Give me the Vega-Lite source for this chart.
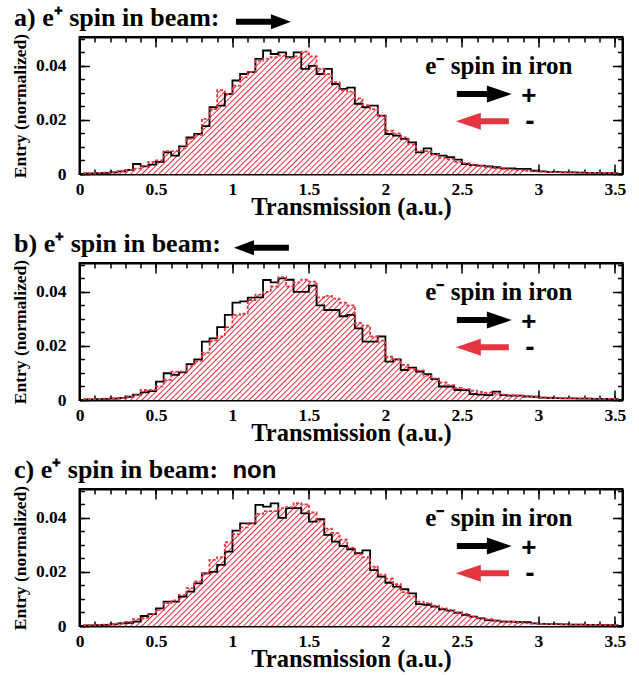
{
"$schema": "https://vega.github.io/schema/vega-lite/v6.json",
"background": "white",
"padding": {"left": 9.5, "top": 3, "right": 5, "bottom": 5},
"bounds": "flush",
"spacing": 89,
"config": {
 "view": {"stroke": "black", "strokeWidth": 2},
 "axis": {"labelFont": "Liberation Serif", "labelFontWeight": "bold", "labelFontSize": 17.5, "labelColor": "black", "titleFont": "Liberation Serif", "titleFontWeight": "bold", "titleColor": "black", "tickColor": "black", "tickWidth": 1.5, "domainColor": "black", "domainWidth": 2, "grid": false, "zindex": 1}
},
"datasets": {
 "note": [{"label": "e⁻ spin in iron"}],
 "a": [
  {"t":0.025,"pos":0.0002,"neg":0.0002},{"t":0.075,"pos":0.0002,"neg":0.0002},{"t":0.125,"pos":0.0003,"neg":0.0003},{"t":0.175,"pos":0.0004,"neg":0.0005},{"t":0.225,"pos":0.0006,"neg":0.0007},
  {"t":0.275,"pos":0.0010,"neg":0.0010},{"t":0.325,"pos":0.0015,"neg":0.0015},{"t":0.375,"pos":0.0037,"neg":0.0020},{"t":0.425,"pos":0.0028,"neg":0.0030},{"t":0.475,"pos":0.0035,"neg":0.0045},
  {"t":0.525,"pos":0.0045,"neg":0.0050},{"t":0.575,"pos":0.0080,"neg":0.0085},{"t":0.625,"pos":0.0068,"neg":0.0085},{"t":0.675,"pos":0.0102,"neg":0.0095},{"t":0.725,"pos":0.0135,"neg":0.0130},
  {"t":0.775,"pos":0.0148,"neg":0.0145},{"t":0.825,"pos":0.0177,"neg":0.0204},{"t":0.875,"pos":0.0247,"neg":0.0240},{"t":0.925,"pos":0.0253,"neg":0.0310},{"t":0.975,"pos":0.0296,"neg":0.0296},
  {"t":1.025,"pos":0.0346,"neg":0.0327},{"t":1.075,"pos":0.0370,"neg":0.0358},{"t":1.125,"pos":0.0377,"neg":0.0377},{"t":1.175,"pos":0.0426,"neg":0.0420},{"t":1.225,"pos":0.0457,"neg":0.0426},
  {"t":1.275,"pos":0.0444,"neg":0.0432},{"t":1.325,"pos":0.0450,"neg":0.0438},{"t":1.375,"pos":0.0432,"neg":0.0430},{"t":1.425,"pos":0.0450,"neg":0.0435},{"t":1.475,"pos":0.0389,"neg":0.0453},
  {"t":1.525,"pos":0.0400,"neg":0.0435},{"t":1.575,"pos":0.0370,"neg":0.0390},{"t":1.625,"pos":0.0389,"neg":0.0370},{"t":1.675,"pos":0.0333,"neg":0.0340},{"t":1.725,"pos":0.0315,"neg":0.0310},
  {"t":1.775,"pos":0.0320,"neg":0.0305},{"t":1.825,"pos":0.0260,"neg":0.0280},{"t":1.875,"pos":0.0247,"neg":0.0255},{"t":1.925,"pos":0.0253,"neg":0.0240},{"t":1.975,"pos":0.0216,"neg":0.0215},
  {"t":2.025,"pos":0.0148,"neg":0.0160},{"t":2.075,"pos":0.0142,"neg":0.0150},{"t":2.125,"pos":0.0130,"neg":0.0135},{"t":2.175,"pos":0.0117,"neg":0.0110},{"t":2.225,"pos":0.0080,"neg":0.0085},
  {"t":2.275,"pos":0.0095,"neg":0.0085},{"t":2.325,"pos":0.0074,"neg":0.0072},{"t":2.375,"pos":0.0068,"neg":0.0060},{"t":2.425,"pos":0.0062,"neg":0.0055},{"t":2.475,"pos":0.0053,"neg":0.0045},
  {"t":2.525,"pos":0.0037,"neg":0.0040},{"t":2.575,"pos":0.0033,"neg":0.0035},{"t":2.625,"pos":0.0031,"neg":0.0030},{"t":2.675,"pos":0.0028,"neg":0.0025},{"t":2.725,"pos":0.0025,"neg":0.0022},
  {"t":2.775,"pos":0.0021,"neg":0.0018},{"t":2.825,"pos":0.0021,"neg":0.0016},{"t":2.875,"pos":0.0019,"neg":0.0014},{"t":2.925,"pos":0.0019,"neg":0.0012},{"t":2.975,"pos":0.0012,"neg":0.0010},
  {"t":3.025,"pos":0.0010,"neg":0.0008},{"t":3.075,"pos":0.0008,"neg":0.0008},{"t":3.125,"pos":0.0008,"neg":0.0007},{"t":3.175,"pos":0.0006,"neg":0.0006},{"t":3.225,"pos":0.0006,"neg":0.0005},
  {"t":3.275,"pos":0.0005,"neg":0.0005},{"t":3.325,"pos":0.0004,"neg":0.0004},{"t":3.375,"pos":0.0004,"neg":0.0004},{"t":3.425,"pos":0.0003,"neg":0.0003},{"t":3.475,"pos":0.0003,"neg":0.0003},
  {"t":3.525,"pos":0.0002,"neg":0.0002}
 ],
 "b": [
  {"t":0.025,"pos":0.0002,"neg":0.0002},{"t":0.075,"pos":0.0002,"neg":0.0003},{"t":0.125,"pos":0.0003,"neg":0.0003},{"t":0.175,"pos":0.0004,"neg":0.0005},{"t":0.225,"pos":0.0005,"neg":0.0006},
  {"t":0.275,"pos":0.0008,"neg":0.0008},{"t":0.325,"pos":0.0012,"neg":0.0012},{"t":0.375,"pos":0.0020,"neg":0.0018},{"t":0.425,"pos":0.0028,"neg":0.0037},{"t":0.475,"pos":0.0033,"neg":0.0037},
  {"t":0.525,"pos":0.0068,"neg":0.0050},{"t":0.575,"pos":0.0099,"neg":0.0075},{"t":0.625,"pos":0.0093,"neg":0.0105},{"t":0.675,"pos":0.0102,"neg":0.0105},{"t":0.725,"pos":0.0133,"neg":0.0125},
  {"t":0.775,"pos":0.0150,"neg":0.0145},{"t":0.825,"pos":0.0216,"neg":0.0175},{"t":0.875,"pos":0.0228,"neg":0.0220},{"t":0.925,"pos":0.0270,"neg":0.0235},{"t":0.975,"pos":0.0315,"neg":0.0270},
  {"t":1.025,"pos":0.0360,"neg":0.0315},{"t":1.075,"pos":0.0365,"neg":0.0320},{"t":1.125,"pos":0.0379,"neg":0.0370},{"t":1.175,"pos":0.0380,"neg":0.0390},{"t":1.225,"pos":0.0444,"neg":0.0400},
  {"t":1.275,"pos":0.0435,"neg":0.0420},{"t":1.325,"pos":0.0450,"neg":0.0455},{"t":1.375,"pos":0.0445,"neg":0.0420},{"t":1.425,"pos":0.0400,"neg":0.0435},{"t":1.475,"pos":0.0400,"neg":0.0445},
  {"t":1.525,"pos":0.0423,"neg":0.0438},{"t":1.575,"pos":0.0350,"neg":0.0380},{"t":1.625,"pos":0.0333,"neg":0.0385},{"t":1.675,"pos":0.0333,"neg":0.0375},{"t":1.725,"pos":0.0310,"neg":0.0360},
  {"t":1.775,"pos":0.0315,"neg":0.0350},{"t":1.825,"pos":0.0265,"neg":0.0285},{"t":1.875,"pos":0.0216,"neg":0.0275},{"t":1.925,"pos":0.0216,"neg":0.0235},{"t":1.975,"pos":0.0235,"neg":0.0220},
  {"t":2.025,"pos":0.0142,"neg":0.0160},{"t":2.075,"pos":0.0150,"neg":0.0150},{"t":2.125,"pos":0.0111,"neg":0.0130},{"t":2.175,"pos":0.0120,"neg":0.0115},{"t":2.225,"pos":0.0105,"neg":0.0110},
  {"t":2.275,"pos":0.0096,"neg":0.0090},{"t":2.325,"pos":0.0077,"neg":0.0080},{"t":2.375,"pos":0.0050,"neg":0.0065},{"t":2.425,"pos":0.0050,"neg":0.0055},{"t":2.475,"pos":0.0037,"neg":0.0045},
  {"t":2.525,"pos":0.0037,"neg":0.0040},{"t":2.575,"pos":0.0022,"neg":0.0035},{"t":2.625,"pos":0.0020,"neg":0.0030},{"t":2.675,"pos":0.0018,"neg":0.0027},{"t":2.725,"pos":0.0031,"neg":0.0024},
  {"t":2.775,"pos":0.0018,"neg":0.0020},{"t":2.825,"pos":0.0016,"neg":0.0018},{"t":2.875,"pos":0.0016,"neg":0.0016},{"t":2.925,"pos":0.0013,"neg":0.0014},{"t":2.975,"pos":0.0012,"neg":0.0012},
  {"t":3.025,"pos":0.0009,"neg":0.0010},{"t":3.075,"pos":0.0008,"neg":0.0009},{"t":3.125,"pos":0.0007,"neg":0.0008},{"t":3.175,"pos":0.0006,"neg":0.0007},{"t":3.225,"pos":0.0006,"neg":0.0006},
  {"t":3.275,"pos":0.0005,"neg":0.0006},{"t":3.325,"pos":0.0005,"neg":0.0005},{"t":3.375,"pos":0.0004,"neg":0.0005},{"t":3.425,"pos":0.0004,"neg":0.0004},{"t":3.475,"pos":0.0003,"neg":0.0004},
  {"t":3.525,"pos":0.0003,"neg":0.0003}
 ],
 "c": [
  {"t":0.025,"pos":0.0002,"neg":0.0002},{"t":0.075,"pos":0.0002,"neg":0.0002},{"t":0.125,"pos":0.0003,"neg":0.0003},{"t":0.175,"pos":0.0004,"neg":0.0005},{"t":0.225,"pos":0.0006,"neg":0.0007},
  {"t":0.275,"pos":0.0010,"neg":0.0010},{"t":0.325,"pos":0.0012,"neg":0.0015},{"t":0.375,"pos":0.0016,"neg":0.0025},{"t":0.425,"pos":0.0037,"neg":0.0030},{"t":0.475,"pos":0.0044,"neg":0.0045},
  {"t":0.525,"pos":0.0065,"neg":0.0060},{"t":0.575,"pos":0.0090,"neg":0.0085},{"t":0.625,"pos":0.0090,"neg":0.0095},{"t":0.675,"pos":0.0109,"neg":0.0115},{"t":0.725,"pos":0.0127,"neg":0.0140},
  {"t":0.775,"pos":0.0158,"neg":0.0165},{"t":0.825,"pos":0.0195,"neg":0.0195},{"t":0.875,"pos":0.0200,"neg":0.0245},{"t":0.925,"pos":0.0226,"neg":0.0255},{"t":0.975,"pos":0.0275,"neg":0.0310},
  {"t":1.025,"pos":0.0353,"neg":0.0340},{"t":1.075,"pos":0.0380,"neg":0.0365},{"t":1.125,"pos":0.0380,"neg":0.0380},{"t":1.175,"pos":0.0448,"neg":0.0415},{"t":1.225,"pos":0.0442,"neg":0.0425},
  {"t":1.275,"pos":0.0454,"neg":0.0425},{"t":1.325,"pos":0.0400,"neg":0.0436},{"t":1.375,"pos":0.0436,"neg":0.0440},{"t":1.425,"pos":0.0436,"neg":0.0455},{"t":1.475,"pos":0.0417,"neg":0.0450},
  {"t":1.525,"pos":0.0386,"neg":0.0420},{"t":1.575,"pos":0.0395,"neg":0.0390},{"t":1.625,"pos":0.0337,"neg":0.0360},{"t":1.675,"pos":0.0312,"neg":0.0345},{"t":1.725,"pos":0.0296,"neg":0.0320},
  {"t":1.775,"pos":0.0284,"neg":0.0290},{"t":1.825,"pos":0.0270,"neg":0.0265},{"t":1.875,"pos":0.0280,"neg":0.0255},{"t":1.925,"pos":0.0207,"neg":0.0220},{"t":1.975,"pos":0.0183,"neg":0.0190},
  {"t":2.025,"pos":0.0160,"neg":0.0175},{"t":2.075,"pos":0.0146,"neg":0.0155},{"t":2.125,"pos":0.0136,"neg":0.0125},{"t":2.175,"pos":0.0121,"neg":0.0110},{"t":2.225,"pos":0.0081,"neg":0.0090},
  {"t":2.275,"pos":0.0078,"neg":0.0085},{"t":2.325,"pos":0.0072,"neg":0.0075},{"t":2.375,"pos":0.0062,"neg":0.0065},{"t":2.425,"pos":0.0057,"neg":0.0060},{"t":2.475,"pos":0.0049,"neg":0.0050},
  {"t":2.525,"pos":0.0041,"neg":0.0045},{"t":2.575,"pos":0.0035,"neg":0.0035},{"t":2.625,"pos":0.0028,"neg":0.0030},{"t":2.675,"pos":0.0022,"neg":0.0025},{"t":2.725,"pos":0.0020,"neg":0.0020},
  {"t":2.775,"pos":0.0016,"neg":0.0017},{"t":2.825,"pos":0.0016,"neg":0.0015},{"t":2.875,"pos":0.0014,"neg":0.0012},{"t":2.925,"pos":0.0014,"neg":0.0010},{"t":2.975,"pos":0.0010,"neg":0.0009},
  {"t":3.025,"pos":0.0008,"neg":0.0008},{"t":3.075,"pos":0.0007,"neg":0.0007},{"t":3.125,"pos":0.0007,"neg":0.0006},{"t":3.175,"pos":0.0006,"neg":0.0006},{"t":3.225,"pos":0.0005,"neg":0.0005},
  {"t":3.275,"pos":0.0005,"neg":0.0005},{"t":3.325,"pos":0.0004,"neg":0.0004},{"t":3.375,"pos":0.0004,"neg":0.0004},{"t":3.425,"pos":0.0003,"neg":0.0003},{"t":3.475,"pos":0.0003,"neg":0.0003},
  {"t":3.525,"pos":0.0002,"neg":0.0002}
 ]
},
"vconcat": [
 {
  "width": 543, "height": 137,
  "data": {"name": "a"},
  "resolve": {"axis": {"x": "independent", "y": "independent"}},
  "layer": [
   {"mark": {"type": "area", "interpolate": "step", "fill": {"gradient": "linear", "x1": 0, "y1": 0, "x2": 1, "y2": 0.23, "stops": [{"offset":0,"color":"#fff"},{"offset":0.0025,"color":"#e32c3a"},{"offset":0.005,"color":"#fff"},{"offset":0.01,"color":"#fff"},{"offset":0.0125,"color":"#e32c3a"},{"offset":0.015,"color":"#fff"},{"offset":0.02,"color":"#fff"},{"offset":0.0225,"color":"#e32c3a"},{"offset":0.025,"color":"#fff"},{"offset":0.03,"color":"#fff"},{"offset":0.0325,"color":"#e32c3a"},{"offset":0.035,"color":"#fff"},{"offset":0.04,"color":"#fff"},{"offset":0.0425,"color":"#e32c3a"},{"offset":0.045,"color":"#fff"},{"offset":0.05,"color":"#fff"},{"offset":0.0525,"color":"#e32c3a"},{"offset":0.055,"color":"#fff"},{"offset":0.06,"color":"#fff"},{"offset":0.0625,"color":"#e32c3a"},{"offset":0.065,"color":"#fff"},{"offset":0.07,"color":"#fff"},{"offset":0.0725,"color":"#e32c3a"},{"offset":0.075,"color":"#fff"},{"offset":0.08,"color":"#fff"},{"offset":0.0825,"color":"#e32c3a"},{"offset":0.085,"color":"#fff"},{"offset":0.09,"color":"#fff"},{"offset":0.0925,"color":"#e32c3a"},{"offset":0.095,"color":"#fff"},{"offset":0.1,"color":"#fff"},{"offset":0.1025,"color":"#e32c3a"},{"offset":0.105,"color":"#fff"},{"offset":0.11,"color":"#fff"},{"offset":0.1125,"color":"#e32c3a"},{"offset":0.115,"color":"#fff"},{"offset":0.12,"color":"#fff"},{"offset":0.1225,"color":"#e32c3a"},{"offset":0.125,"color":"#fff"},{"offset":0.13,"color":"#fff"},{"offset":0.1325,"color":"#e32c3a"},{"offset":0.135,"color":"#fff"},{"offset":0.14,"color":"#fff"},{"offset":0.1425,"color":"#e32c3a"},{"offset":0.145,"color":"#fff"},{"offset":0.15,"color":"#fff"},{"offset":0.1525,"color":"#e32c3a"},{"offset":0.155,"color":"#fff"},{"offset":0.16,"color":"#fff"},{"offset":0.1625,"color":"#e32c3a"},{"offset":0.165,"color":"#fff"},{"offset":0.17,"color":"#fff"},{"offset":0.1725,"color":"#e32c3a"},{"offset":0.175,"color":"#fff"},{"offset":0.18,"color":"#fff"},{"offset":0.1825,"color":"#e32c3a"},{"offset":0.185,"color":"#fff"},{"offset":0.19,"color":"#fff"},{"offset":0.1925,"color":"#e32c3a"},{"offset":0.195,"color":"#fff"},{"offset":0.2,"color":"#fff"},{"offset":0.2025,"color":"#e32c3a"},{"offset":0.205,"color":"#fff"},{"offset":0.21,"color":"#fff"},{"offset":0.2125,"color":"#e32c3a"},{"offset":0.215,"color":"#fff"},{"offset":0.22,"color":"#fff"},{"offset":0.2225,"color":"#e32c3a"},{"offset":0.225,"color":"#fff"},{"offset":0.23,"color":"#fff"},{"offset":0.2325,"color":"#e32c3a"},{"offset":0.235,"color":"#fff"},{"offset":0.24,"color":"#fff"},{"offset":0.2425,"color":"#e32c3a"},{"offset":0.245,"color":"#fff"},{"offset":0.25,"color":"#fff"},{"offset":0.2525,"color":"#e32c3a"},{"offset":0.255,"color":"#fff"},{"offset":0.26,"color":"#fff"},{"offset":0.2625,"color":"#e32c3a"},{"offset":0.265,"color":"#fff"},{"offset":0.27,"color":"#fff"},{"offset":0.2725,"color":"#e32c3a"},{"offset":0.275,"color":"#fff"},{"offset":0.28,"color":"#fff"},{"offset":0.2825,"color":"#e32c3a"},{"offset":0.285,"color":"#fff"},{"offset":0.29,"color":"#fff"},{"offset":0.2925,"color":"#e32c3a"},{"offset":0.295,"color":"#fff"},{"offset":0.3,"color":"#fff"},{"offset":0.3025,"color":"#e32c3a"},{"offset":0.305,"color":"#fff"},{"offset":0.31,"color":"#fff"},{"offset":0.3125,"color":"#e32c3a"},{"offset":0.315,"color":"#fff"},{"offset":0.32,"color":"#fff"},{"offset":0.3225,"color":"#e32c3a"},{"offset":0.325,"color":"#fff"},{"offset":0.33,"color":"#fff"},{"offset":0.3325,"color":"#e32c3a"},{"offset":0.335,"color":"#fff"},{"offset":0.34,"color":"#fff"},{"offset":0.3425,"color":"#e32c3a"},{"offset":0.345,"color":"#fff"},{"offset":0.35,"color":"#fff"},{"offset":0.3525,"color":"#e32c3a"},{"offset":0.355,"color":"#fff"},{"offset":0.36,"color":"#fff"},{"offset":0.3625,"color":"#e32c3a"},{"offset":0.365,"color":"#fff"},{"offset":0.37,"color":"#fff"},{"offset":0.3725,"color":"#e32c3a"},{"offset":0.375,"color":"#fff"},{"offset":0.38,"color":"#fff"},{"offset":0.3825,"color":"#e32c3a"},{"offset":0.385,"color":"#fff"},{"offset":0.39,"color":"#fff"},{"offset":0.3925,"color":"#e32c3a"},{"offset":0.395,"color":"#fff"},{"offset":0.4,"color":"#fff"},{"offset":0.4025,"color":"#e32c3a"},{"offset":0.405,"color":"#fff"},{"offset":0.41,"color":"#fff"},{"offset":0.4125,"color":"#e32c3a"},{"offset":0.415,"color":"#fff"},{"offset":0.42,"color":"#fff"},{"offset":0.4225,"color":"#e32c3a"},{"offset":0.425,"color":"#fff"},{"offset":0.43,"color":"#fff"},{"offset":0.4325,"color":"#e32c3a"},{"offset":0.435,"color":"#fff"},{"offset":0.44,"color":"#fff"},{"offset":0.4425,"color":"#e32c3a"},{"offset":0.445,"color":"#fff"},{"offset":0.45,"color":"#fff"},{"offset":0.4525,"color":"#e32c3a"},{"offset":0.455,"color":"#fff"},{"offset":0.46,"color":"#fff"},{"offset":0.4625,"color":"#e32c3a"},{"offset":0.465,"color":"#fff"},{"offset":0.47,"color":"#fff"},{"offset":0.4725,"color":"#e32c3a"},{"offset":0.475,"color":"#fff"},{"offset":0.48,"color":"#fff"},{"offset":0.4825,"color":"#e32c3a"},{"offset":0.485,"color":"#fff"},{"offset":0.49,"color":"#fff"},{"offset":0.4925,"color":"#e32c3a"},{"offset":0.495,"color":"#fff"},{"offset":0.5,"color":"#fff"},{"offset":0.5025,"color":"#e32c3a"},{"offset":0.505,"color":"#fff"},{"offset":0.51,"color":"#fff"},{"offset":0.5125,"color":"#e32c3a"},{"offset":0.515,"color":"#fff"},{"offset":0.52,"color":"#fff"},{"offset":0.5225,"color":"#e32c3a"},{"offset":0.525,"color":"#fff"},{"offset":0.53,"color":"#fff"},{"offset":0.5325,"color":"#e32c3a"},{"offset":0.535,"color":"#fff"},{"offset":0.54,"color":"#fff"},{"offset":0.5425,"color":"#e32c3a"},{"offset":0.545,"color":"#fff"},{"offset":0.55,"color":"#fff"},{"offset":0.5525,"color":"#e32c3a"},{"offset":0.555,"color":"#fff"},{"offset":0.56,"color":"#fff"},{"offset":0.5625,"color":"#e32c3a"},{"offset":0.565,"color":"#fff"},{"offset":0.57,"color":"#fff"},{"offset":0.5725,"color":"#e32c3a"},{"offset":0.575,"color":"#fff"},{"offset":0.58,"color":"#fff"},{"offset":0.5825,"color":"#e32c3a"},{"offset":0.585,"color":"#fff"},{"offset":0.59,"color":"#fff"},{"offset":0.5925,"color":"#e32c3a"},{"offset":0.595,"color":"#fff"},{"offset":0.6,"color":"#fff"},{"offset":0.6025,"color":"#e32c3a"},{"offset":0.605,"color":"#fff"},{"offset":0.61,"color":"#fff"},{"offset":0.6125,"color":"#e32c3a"},{"offset":0.615,"color":"#fff"},{"offset":0.62,"color":"#fff"},{"offset":0.6225,"color":"#e32c3a"},{"offset":0.625,"color":"#fff"},{"offset":0.63,"color":"#fff"},{"offset":0.6325,"color":"#e32c3a"},{"offset":0.635,"color":"#fff"},{"offset":0.64,"color":"#fff"},{"offset":0.6425,"color":"#e32c3a"},{"offset":0.645,"color":"#fff"},{"offset":0.65,"color":"#fff"},{"offset":0.6525,"color":"#e32c3a"},{"offset":0.655,"color":"#fff"},{"offset":0.66,"color":"#fff"},{"offset":0.6625,"color":"#e32c3a"},{"offset":0.665,"color":"#fff"},{"offset":0.67,"color":"#fff"},{"offset":0.6725,"color":"#e32c3a"},{"offset":0.675,"color":"#fff"},{"offset":0.68,"color":"#fff"},{"offset":0.6825,"color":"#e32c3a"},{"offset":0.685,"color":"#fff"},{"offset":0.69,"color":"#fff"},{"offset":0.6925,"color":"#e32c3a"},{"offset":0.695,"color":"#fff"},{"offset":0.7,"color":"#fff"},{"offset":0.7025,"color":"#e32c3a"},{"offset":0.705,"color":"#fff"},{"offset":0.71,"color":"#fff"},{"offset":0.7125,"color":"#e32c3a"},{"offset":0.715,"color":"#fff"},{"offset":0.72,"color":"#fff"},{"offset":0.7225,"color":"#e32c3a"},{"offset":0.725,"color":"#fff"},{"offset":0.73,"color":"#fff"},{"offset":0.7325,"color":"#e32c3a"},{"offset":0.735,"color":"#fff"},{"offset":0.74,"color":"#fff"},{"offset":0.7425,"color":"#e32c3a"},{"offset":0.745,"color":"#fff"},{"offset":0.75,"color":"#fff"},{"offset":0.7525,"color":"#e32c3a"},{"offset":0.755,"color":"#fff"},{"offset":0.76,"color":"#fff"},{"offset":0.7625,"color":"#e32c3a"},{"offset":0.765,"color":"#fff"},{"offset":0.77,"color":"#fff"},{"offset":0.7725,"color":"#e32c3a"},{"offset":0.775,"color":"#fff"},{"offset":0.78,"color":"#fff"},{"offset":0.7825,"color":"#e32c3a"},{"offset":0.785,"color":"#fff"},{"offset":0.79,"color":"#fff"},{"offset":0.7925,"color":"#e32c3a"},{"offset":0.795,"color":"#fff"},{"offset":0.8,"color":"#fff"},{"offset":0.8025,"color":"#e32c3a"},{"offset":0.805,"color":"#fff"},{"offset":0.81,"color":"#fff"},{"offset":0.8125,"color":"#e32c3a"},{"offset":0.815,"color":"#fff"},{"offset":0.82,"color":"#fff"},{"offset":0.8225,"color":"#e32c3a"},{"offset":0.825,"color":"#fff"},{"offset":0.83,"color":"#fff"},{"offset":0.8325,"color":"#e32c3a"},{"offset":0.835,"color":"#fff"},{"offset":0.84,"color":"#fff"},{"offset":0.8425,"color":"#e32c3a"},{"offset":0.845,"color":"#fff"},{"offset":0.85,"color":"#fff"},{"offset":0.8525,"color":"#e32c3a"},{"offset":0.855,"color":"#fff"},{"offset":0.86,"color":"#fff"},{"offset":0.8625,"color":"#e32c3a"},{"offset":0.865,"color":"#fff"},{"offset":0.87,"color":"#fff"},{"offset":0.8725,"color":"#e32c3a"},{"offset":0.875,"color":"#fff"},{"offset":0.88,"color":"#fff"},{"offset":0.8825,"color":"#e32c3a"},{"offset":0.885,"color":"#fff"},{"offset":0.89,"color":"#fff"},{"offset":0.8925,"color":"#e32c3a"},{"offset":0.895,"color":"#fff"},{"offset":0.9,"color":"#fff"},{"offset":0.9025,"color":"#e32c3a"},{"offset":0.905,"color":"#fff"},{"offset":0.91,"color":"#fff"},{"offset":0.9125,"color":"#e32c3a"},{"offset":0.915,"color":"#fff"},{"offset":0.92,"color":"#fff"},{"offset":0.9225,"color":"#e32c3a"},{"offset":0.925,"color":"#fff"},{"offset":0.93,"color":"#fff"},{"offset":0.9325,"color":"#e32c3a"},{"offset":0.935,"color":"#fff"},{"offset":0.94,"color":"#fff"},{"offset":0.9425,"color":"#e32c3a"},{"offset":0.945,"color":"#fff"},{"offset":0.95,"color":"#fff"},{"offset":0.9525,"color":"#e32c3a"},{"offset":0.955,"color":"#fff"},{"offset":0.96,"color":"#fff"},{"offset":0.9625,"color":"#e32c3a"},{"offset":0.965,"color":"#fff"},{"offset":0.97,"color":"#fff"},{"offset":0.9725,"color":"#e32c3a"},{"offset":0.975,"color":"#fff"},{"offset":0.98,"color":"#fff"},{"offset":0.9825,"color":"#e32c3a"},{"offset":0.985,"color":"#fff"},{"offset":0.99,"color":"#fff"},{"offset":0.9925,"color":"#e32c3a"},{"offset":0.995,"color":"#fff"},{"offset":1,"color":"#fff"}]}},
    "encoding": {
     "x": {"field": "t", "type": "quantitative", "scale": {"domain": [0, 3.55], "nice": false, "zero": false}, "axis": {"orient": "bottom", "values": [0,0.5,1,1.5,2,2.5,3,3.5], "format": "~g", "tickSize": -10, "labelPadding": 16, "labelFlush": false, "labelOverlap": false, "title": "Transmission (a.u.)", "titleFontSize": 24.5, "titlePadding": -2, "domain": true}},
     "y": {"field": "neg", "type": "quantitative", "scale": {"domain": [0, 0.0507], "nice": false}, "axis": {"orient": "left", "values": [0,0.02,0.04], "format": "~g", "tickSize": -10, "labelPadding": 23.5, "labelFlush": false, "labelOverlap": false, "title": "Entry (normalized)", "titleFontSize": 17.5, "titlePadding": 6, "domain": true}}
    }},
   {"mark": {"type": "line", "interpolate": "step", "color": "black", "strokeWidth": 1.8},
    "encoding": {
     "x": {"field": "t", "type": "quantitative", "axis": {"orient": "bottom", "values": [0,0.1,0.2,0.3,0.4,0.5,0.6,0.7,0.8,0.9,1,1.1,1.2,1.3,1.4,1.5,1.6,1.7,1.8,1.9,2,2.1,2.2,2.3,2.4,2.5,2.6,2.7,2.8,2.9,3,3.1,3.2,3.3,3.4,3.5], "tickSize": -5, "labels": false, "domain": false, "title": null}},
     "y": {"field": "pos", "type": "quantitative", "axis": {"orient": "left", "values": [0,0.005,0.01,0.015,0.02,0.025,0.03,0.035,0.04,0.045,0.05], "tickSize": -5, "labels": false, "domain": false, "title": null}}
    }},
   {"mark": {"type": "line", "interpolate": "step", "color": "#e53540", "strokeWidth": 1.8, "strokeDash": [3, 2]},
    "encoding": {
     "x": {"field": "t", "type": "quantitative", "axis": {"orient": "top", "values": [0,0.5,1,1.5,2,2.5,3,3.5], "tickSize": -10, "labels": false, "domain": true, "title": null}},
     "y": {"field": "neg", "type": "quantitative", "axis": {"orient": "right", "values": [0,0.02,0.04], "tickSize": -10, "labels": false, "domain": true, "title": null}}
    }},
   {"data": {"name": "note"},
    "mark": {"type": "text", "font": "Liberation Serif", "fontWeight": "bold", "fontSize": 25, "align": "center", "baseline": "alphabetic", "color": "black"},
    "encoding": {
     "x": {"datum": 2.742, "type": "quantitative", "axis": {"orient": "top", "values": [0,0.1,0.2,0.3,0.4,0.5,0.6,0.7,0.8,0.9,1,1.1,1.2,1.3,1.4,1.5,1.6,1.7,1.8,1.9,2,2.1,2.2,2.3,2.4,2.5,2.6,2.7,2.8,2.9,3,3.1,3.2,3.3,3.4,3.5], "tickSize": -5, "labels": false, "domain": false, "title": null}},
     "y": {"datum": 0.0369, "type": "quantitative", "axis": {"orient": "right", "values": [0,0.005,0.01,0.015,0.02,0.025,0.03,0.035,0.04,0.045,0.05], "tickSize": -5, "labels": false, "domain": false, "title": null}},
     "text": {"field": "label"}
    }},
   {"data": {"name": "note"}, "mark": {"type": "rule", "color": "black", "strokeWidth": 6},
    "encoding": {"x": {"datum": 2.467, "type": "quantitative", "axis": null}, "x2": {"datum": 2.7}, "y": {"datum": 0.0296, "type": "quantitative", "axis": null}}},
   {"data": {"name": "note"}, "mark": {"type": "point", "shape": "M-1,-0.68L1,0L-1,0.68Z", "size": 625, "filled": true, "opacity": 1, "strokeWidth": 0, "color": "black"},
    "encoding": {"x": {"datum": 2.745, "type": "quantitative", "axis": null}, "y": {"datum": 0.0296, "type": "quantitative", "axis": null}}},
   {"data": {"name": "note"}, "mark": {"type": "rule", "color": "#e53540", "strokeWidth": 6},
    "encoding": {"x": {"datum": 2.58, "type": "quantitative", "axis": null}, "x2": {"datum": 2.807}, "y": {"datum": 0.0195, "type": "quantitative", "axis": null}}},
   {"data": {"name": "note"}, "mark": {"type": "point", "shape": "M1,-0.68L-1,0L1,0.68Z", "size": 625, "filled": true, "opacity": 1, "strokeWidth": 0, "color": "#e53540"},
    "encoding": {"x": {"datum": 2.542, "type": "quantitative", "axis": null}, "y": {"datum": 0.0195, "type": "quantitative", "axis": null}}},
   {"data": {"name": "note"}, "mark": {"type": "text", "font": "Liberation Sans", "fontWeight": "bold", "fontSize": 26, "align": "center", "baseline": "middle", "color": "black"},
    "encoding": {"x": {"datum": 2.938, "type": "quantitative", "axis": null}, "y": {"datum": 0.0288, "type": "quantitative", "axis": null}, "text": {"value": "+"}}},
   {"data": {"name": "note"}, "mark": {"type": "text", "font": "Liberation Sans", "fontWeight": "bold", "fontSize": 28, "align": "center", "baseline": "middle", "color": "black"},
    "encoding": {"x": {"datum": 2.944, "type": "quantitative", "axis": null}, "y": {"datum": 0.0192, "type": "quantitative", "axis": null}, "text": {"value": "-"}}},
   {"data": {"name": "note"}, "mark": {"type": "text", "font": "Liberation Serif", "fontWeight": "bold", "fontSize": 26, "align": "left", "baseline": "alphabetic", "color": "black"},
    "encoding": {"x": {"datum": -0.428, "type": "quantitative", "axis": null}, "y": {"datum": 0.0548, "type": "quantitative", "axis": null}, "text": {"value": "a) e⁺ spin in beam:"}}},
   {"data": {"name": "note"}, "mark": {"type": "rule", "color": "black", "strokeWidth": 6},
    "encoding": {"x": {"datum": 1.023, "type": "quantitative", "axis": null}, "x2": {"datum": 1.29}, "y": {"datum": 0.0563, "type": "quantitative", "axis": null}}},
   {"data": {"name": "note"}, "mark": {"type": "point", "shape": "M-1,-0.75L1,0L-1,0.75Z", "size": 400, "filled": true, "opacity": 1, "strokeWidth": 0, "color": "black"},
    "encoding": {"x": {"datum": 1.317, "type": "quantitative", "axis": null}, "y": {"datum": 0.0563, "type": "quantitative", "axis": null}}}
  ]
 },
 {
  "width": 543, "height": 137,
  "data": {"name": "b"},
  "resolve": {"axis": {"x": "independent", "y": "independent"}},
  "layer": [
   {"mark": {"type": "area", "interpolate": "step", "fill": {"gradient": "linear", "x1": 0, "y1": 0, "x2": 1, "y2": 0.23, "stops": [{"offset":0,"color":"#fff"},{"offset":0.0025,"color":"#e32c3a"},{"offset":0.005,"color":"#fff"},{"offset":0.01,"color":"#fff"},{"offset":0.0125,"color":"#e32c3a"},{"offset":0.015,"color":"#fff"},{"offset":0.02,"color":"#fff"},{"offset":0.0225,"color":"#e32c3a"},{"offset":0.025,"color":"#fff"},{"offset":0.03,"color":"#fff"},{"offset":0.0325,"color":"#e32c3a"},{"offset":0.035,"color":"#fff"},{"offset":0.04,"color":"#fff"},{"offset":0.0425,"color":"#e32c3a"},{"offset":0.045,"color":"#fff"},{"offset":0.05,"color":"#fff"},{"offset":0.0525,"color":"#e32c3a"},{"offset":0.055,"color":"#fff"},{"offset":0.06,"color":"#fff"},{"offset":0.0625,"color":"#e32c3a"},{"offset":0.065,"color":"#fff"},{"offset":0.07,"color":"#fff"},{"offset":0.0725,"color":"#e32c3a"},{"offset":0.075,"color":"#fff"},{"offset":0.08,"color":"#fff"},{"offset":0.0825,"color":"#e32c3a"},{"offset":0.085,"color":"#fff"},{"offset":0.09,"color":"#fff"},{"offset":0.0925,"color":"#e32c3a"},{"offset":0.095,"color":"#fff"},{"offset":0.1,"color":"#fff"},{"offset":0.1025,"color":"#e32c3a"},{"offset":0.105,"color":"#fff"},{"offset":0.11,"color":"#fff"},{"offset":0.1125,"color":"#e32c3a"},{"offset":0.115,"color":"#fff"},{"offset":0.12,"color":"#fff"},{"offset":0.1225,"color":"#e32c3a"},{"offset":0.125,"color":"#fff"},{"offset":0.13,"color":"#fff"},{"offset":0.1325,"color":"#e32c3a"},{"offset":0.135,"color":"#fff"},{"offset":0.14,"color":"#fff"},{"offset":0.1425,"color":"#e32c3a"},{"offset":0.145,"color":"#fff"},{"offset":0.15,"color":"#fff"},{"offset":0.1525,"color":"#e32c3a"},{"offset":0.155,"color":"#fff"},{"offset":0.16,"color":"#fff"},{"offset":0.1625,"color":"#e32c3a"},{"offset":0.165,"color":"#fff"},{"offset":0.17,"color":"#fff"},{"offset":0.1725,"color":"#e32c3a"},{"offset":0.175,"color":"#fff"},{"offset":0.18,"color":"#fff"},{"offset":0.1825,"color":"#e32c3a"},{"offset":0.185,"color":"#fff"},{"offset":0.19,"color":"#fff"},{"offset":0.1925,"color":"#e32c3a"},{"offset":0.195,"color":"#fff"},{"offset":0.2,"color":"#fff"},{"offset":0.2025,"color":"#e32c3a"},{"offset":0.205,"color":"#fff"},{"offset":0.21,"color":"#fff"},{"offset":0.2125,"color":"#e32c3a"},{"offset":0.215,"color":"#fff"},{"offset":0.22,"color":"#fff"},{"offset":0.2225,"color":"#e32c3a"},{"offset":0.225,"color":"#fff"},{"offset":0.23,"color":"#fff"},{"offset":0.2325,"color":"#e32c3a"},{"offset":0.235,"color":"#fff"},{"offset":0.24,"color":"#fff"},{"offset":0.2425,"color":"#e32c3a"},{"offset":0.245,"color":"#fff"},{"offset":0.25,"color":"#fff"},{"offset":0.2525,"color":"#e32c3a"},{"offset":0.255,"color":"#fff"},{"offset":0.26,"color":"#fff"},{"offset":0.2625,"color":"#e32c3a"},{"offset":0.265,"color":"#fff"},{"offset":0.27,"color":"#fff"},{"offset":0.2725,"color":"#e32c3a"},{"offset":0.275,"color":"#fff"},{"offset":0.28,"color":"#fff"},{"offset":0.2825,"color":"#e32c3a"},{"offset":0.285,"color":"#fff"},{"offset":0.29,"color":"#fff"},{"offset":0.2925,"color":"#e32c3a"},{"offset":0.295,"color":"#fff"},{"offset":0.3,"color":"#fff"},{"offset":0.3025,"color":"#e32c3a"},{"offset":0.305,"color":"#fff"},{"offset":0.31,"color":"#fff"},{"offset":0.3125,"color":"#e32c3a"},{"offset":0.315,"color":"#fff"},{"offset":0.32,"color":"#fff"},{"offset":0.3225,"color":"#e32c3a"},{"offset":0.325,"color":"#fff"},{"offset":0.33,"color":"#fff"},{"offset":0.3325,"color":"#e32c3a"},{"offset":0.335,"color":"#fff"},{"offset":0.34,"color":"#fff"},{"offset":0.3425,"color":"#e32c3a"},{"offset":0.345,"color":"#fff"},{"offset":0.35,"color":"#fff"},{"offset":0.3525,"color":"#e32c3a"},{"offset":0.355,"color":"#fff"},{"offset":0.36,"color":"#fff"},{"offset":0.3625,"color":"#e32c3a"},{"offset":0.365,"color":"#fff"},{"offset":0.37,"color":"#fff"},{"offset":0.3725,"color":"#e32c3a"},{"offset":0.375,"color":"#fff"},{"offset":0.38,"color":"#fff"},{"offset":0.3825,"color":"#e32c3a"},{"offset":0.385,"color":"#fff"},{"offset":0.39,"color":"#fff"},{"offset":0.3925,"color":"#e32c3a"},{"offset":0.395,"color":"#fff"},{"offset":0.4,"color":"#fff"},{"offset":0.4025,"color":"#e32c3a"},{"offset":0.405,"color":"#fff"},{"offset":0.41,"color":"#fff"},{"offset":0.4125,"color":"#e32c3a"},{"offset":0.415,"color":"#fff"},{"offset":0.42,"color":"#fff"},{"offset":0.4225,"color":"#e32c3a"},{"offset":0.425,"color":"#fff"},{"offset":0.43,"color":"#fff"},{"offset":0.4325,"color":"#e32c3a"},{"offset":0.435,"color":"#fff"},{"offset":0.44,"color":"#fff"},{"offset":0.4425,"color":"#e32c3a"},{"offset":0.445,"color":"#fff"},{"offset":0.45,"color":"#fff"},{"offset":0.4525,"color":"#e32c3a"},{"offset":0.455,"color":"#fff"},{"offset":0.46,"color":"#fff"},{"offset":0.4625,"color":"#e32c3a"},{"offset":0.465,"color":"#fff"},{"offset":0.47,"color":"#fff"},{"offset":0.4725,"color":"#e32c3a"},{"offset":0.475,"color":"#fff"},{"offset":0.48,"color":"#fff"},{"offset":0.4825,"color":"#e32c3a"},{"offset":0.485,"color":"#fff"},{"offset":0.49,"color":"#fff"},{"offset":0.4925,"color":"#e32c3a"},{"offset":0.495,"color":"#fff"},{"offset":0.5,"color":"#fff"},{"offset":0.5025,"color":"#e32c3a"},{"offset":0.505,"color":"#fff"},{"offset":0.51,"color":"#fff"},{"offset":0.5125,"color":"#e32c3a"},{"offset":0.515,"color":"#fff"},{"offset":0.52,"color":"#fff"},{"offset":0.5225,"color":"#e32c3a"},{"offset":0.525,"color":"#fff"},{"offset":0.53,"color":"#fff"},{"offset":0.5325,"color":"#e32c3a"},{"offset":0.535,"color":"#fff"},{"offset":0.54,"color":"#fff"},{"offset":0.5425,"color":"#e32c3a"},{"offset":0.545,"color":"#fff"},{"offset":0.55,"color":"#fff"},{"offset":0.5525,"color":"#e32c3a"},{"offset":0.555,"color":"#fff"},{"offset":0.56,"color":"#fff"},{"offset":0.5625,"color":"#e32c3a"},{"offset":0.565,"color":"#fff"},{"offset":0.57,"color":"#fff"},{"offset":0.5725,"color":"#e32c3a"},{"offset":0.575,"color":"#fff"},{"offset":0.58,"color":"#fff"},{"offset":0.5825,"color":"#e32c3a"},{"offset":0.585,"color":"#fff"},{"offset":0.59,"color":"#fff"},{"offset":0.5925,"color":"#e32c3a"},{"offset":0.595,"color":"#fff"},{"offset":0.6,"color":"#fff"},{"offset":0.6025,"color":"#e32c3a"},{"offset":0.605,"color":"#fff"},{"offset":0.61,"color":"#fff"},{"offset":0.6125,"color":"#e32c3a"},{"offset":0.615,"color":"#fff"},{"offset":0.62,"color":"#fff"},{"offset":0.6225,"color":"#e32c3a"},{"offset":0.625,"color":"#fff"},{"offset":0.63,"color":"#fff"},{"offset":0.6325,"color":"#e32c3a"},{"offset":0.635,"color":"#fff"},{"offset":0.64,"color":"#fff"},{"offset":0.6425,"color":"#e32c3a"},{"offset":0.645,"color":"#fff"},{"offset":0.65,"color":"#fff"},{"offset":0.6525,"color":"#e32c3a"},{"offset":0.655,"color":"#fff"},{"offset":0.66,"color":"#fff"},{"offset":0.6625,"color":"#e32c3a"},{"offset":0.665,"color":"#fff"},{"offset":0.67,"color":"#fff"},{"offset":0.6725,"color":"#e32c3a"},{"offset":0.675,"color":"#fff"},{"offset":0.68,"color":"#fff"},{"offset":0.6825,"color":"#e32c3a"},{"offset":0.685,"color":"#fff"},{"offset":0.69,"color":"#fff"},{"offset":0.6925,"color":"#e32c3a"},{"offset":0.695,"color":"#fff"},{"offset":0.7,"color":"#fff"},{"offset":0.7025,"color":"#e32c3a"},{"offset":0.705,"color":"#fff"},{"offset":0.71,"color":"#fff"},{"offset":0.7125,"color":"#e32c3a"},{"offset":0.715,"color":"#fff"},{"offset":0.72,"color":"#fff"},{"offset":0.7225,"color":"#e32c3a"},{"offset":0.725,"color":"#fff"},{"offset":0.73,"color":"#fff"},{"offset":0.7325,"color":"#e32c3a"},{"offset":0.735,"color":"#fff"},{"offset":0.74,"color":"#fff"},{"offset":0.7425,"color":"#e32c3a"},{"offset":0.745,"color":"#fff"},{"offset":0.75,"color":"#fff"},{"offset":0.7525,"color":"#e32c3a"},{"offset":0.755,"color":"#fff"},{"offset":0.76,"color":"#fff"},{"offset":0.7625,"color":"#e32c3a"},{"offset":0.765,"color":"#fff"},{"offset":0.77,"color":"#fff"},{"offset":0.7725,"color":"#e32c3a"},{"offset":0.775,"color":"#fff"},{"offset":0.78,"color":"#fff"},{"offset":0.7825,"color":"#e32c3a"},{"offset":0.785,"color":"#fff"},{"offset":0.79,"color":"#fff"},{"offset":0.7925,"color":"#e32c3a"},{"offset":0.795,"color":"#fff"},{"offset":0.8,"color":"#fff"},{"offset":0.8025,"color":"#e32c3a"},{"offset":0.805,"color":"#fff"},{"offset":0.81,"color":"#fff"},{"offset":0.8125,"color":"#e32c3a"},{"offset":0.815,"color":"#fff"},{"offset":0.82,"color":"#fff"},{"offset":0.8225,"color":"#e32c3a"},{"offset":0.825,"color":"#fff"},{"offset":0.83,"color":"#fff"},{"offset":0.8325,"color":"#e32c3a"},{"offset":0.835,"color":"#fff"},{"offset":0.84,"color":"#fff"},{"offset":0.8425,"color":"#e32c3a"},{"offset":0.845,"color":"#fff"},{"offset":0.85,"color":"#fff"},{"offset":0.8525,"color":"#e32c3a"},{"offset":0.855,"color":"#fff"},{"offset":0.86,"color":"#fff"},{"offset":0.8625,"color":"#e32c3a"},{"offset":0.865,"color":"#fff"},{"offset":0.87,"color":"#fff"},{"offset":0.8725,"color":"#e32c3a"},{"offset":0.875,"color":"#fff"},{"offset":0.88,"color":"#fff"},{"offset":0.8825,"color":"#e32c3a"},{"offset":0.885,"color":"#fff"},{"offset":0.89,"color":"#fff"},{"offset":0.8925,"color":"#e32c3a"},{"offset":0.895,"color":"#fff"},{"offset":0.9,"color":"#fff"},{"offset":0.9025,"color":"#e32c3a"},{"offset":0.905,"color":"#fff"},{"offset":0.91,"color":"#fff"},{"offset":0.9125,"color":"#e32c3a"},{"offset":0.915,"color":"#fff"},{"offset":0.92,"color":"#fff"},{"offset":0.9225,"color":"#e32c3a"},{"offset":0.925,"color":"#fff"},{"offset":0.93,"color":"#fff"},{"offset":0.9325,"color":"#e32c3a"},{"offset":0.935,"color":"#fff"},{"offset":0.94,"color":"#fff"},{"offset":0.9425,"color":"#e32c3a"},{"offset":0.945,"color":"#fff"},{"offset":0.95,"color":"#fff"},{"offset":0.9525,"color":"#e32c3a"},{"offset":0.955,"color":"#fff"},{"offset":0.96,"color":"#fff"},{"offset":0.9625,"color":"#e32c3a"},{"offset":0.965,"color":"#fff"},{"offset":0.97,"color":"#fff"},{"offset":0.9725,"color":"#e32c3a"},{"offset":0.975,"color":"#fff"},{"offset":0.98,"color":"#fff"},{"offset":0.9825,"color":"#e32c3a"},{"offset":0.985,"color":"#fff"},{"offset":0.99,"color":"#fff"},{"offset":0.9925,"color":"#e32c3a"},{"offset":0.995,"color":"#fff"},{"offset":1,"color":"#fff"}]}},
    "encoding": {
     "x": {"field": "t", "type": "quantitative", "scale": {"domain": [0, 3.55], "nice": false, "zero": false}, "axis": {"orient": "bottom", "values": [0,0.5,1,1.5,2,2.5,3,3.5], "format": "~g", "tickSize": -10, "labelPadding": 16, "labelFlush": false, "labelOverlap": false, "title": "Transmission (a.u.)", "titleFontSize": 24.5, "titlePadding": -2, "domain": true}},
     "y": {"field": "neg", "type": "quantitative", "scale": {"domain": [0, 0.0507], "nice": false}, "axis": {"orient": "left", "values": [0,0.02,0.04], "format": "~g", "tickSize": -10, "labelPadding": 23.5, "labelFlush": false, "labelOverlap": false, "title": "Entry (normalized)", "titleFontSize": 17.5, "titlePadding": 6, "domain": true}}
    }},
   {"mark": {"type": "line", "interpolate": "step", "color": "black", "strokeWidth": 1.8},
    "encoding": {
     "x": {"field": "t", "type": "quantitative", "axis": {"orient": "bottom", "values": [0,0.1,0.2,0.3,0.4,0.5,0.6,0.7,0.8,0.9,1,1.1,1.2,1.3,1.4,1.5,1.6,1.7,1.8,1.9,2,2.1,2.2,2.3,2.4,2.5,2.6,2.7,2.8,2.9,3,3.1,3.2,3.3,3.4,3.5], "tickSize": -5, "labels": false, "domain": false, "title": null}},
     "y": {"field": "pos", "type": "quantitative", "axis": {"orient": "left", "values": [0,0.005,0.01,0.015,0.02,0.025,0.03,0.035,0.04,0.045,0.05], "tickSize": -5, "labels": false, "domain": false, "title": null}}
    }},
   {"mark": {"type": "line", "interpolate": "step", "color": "#e53540", "strokeWidth": 1.8, "strokeDash": [3, 2]},
    "encoding": {
     "x": {"field": "t", "type": "quantitative", "axis": {"orient": "top", "values": [0,0.5,1,1.5,2,2.5,3,3.5], "tickSize": -10, "labels": false, "domain": true, "title": null}},
     "y": {"field": "neg", "type": "quantitative", "axis": {"orient": "right", "values": [0,0.02,0.04], "tickSize": -10, "labels": false, "domain": true, "title": null}}
    }},
   {"data": {"name": "note"},
    "mark": {"type": "text", "font": "Liberation Serif", "fontWeight": "bold", "fontSize": 25, "align": "center", "baseline": "alphabetic", "color": "black"},
    "encoding": {
     "x": {"datum": 2.742, "type": "quantitative", "axis": {"orient": "top", "values": [0,0.1,0.2,0.3,0.4,0.5,0.6,0.7,0.8,0.9,1,1.1,1.2,1.3,1.4,1.5,1.6,1.7,1.8,1.9,2,2.1,2.2,2.3,2.4,2.5,2.6,2.7,2.8,2.9,3,3.1,3.2,3.3,3.4,3.5], "tickSize": -5, "labels": false, "domain": false, "title": null}},
     "y": {"datum": 0.0369, "type": "quantitative", "axis": {"orient": "right", "values": [0,0.005,0.01,0.015,0.02,0.025,0.03,0.035,0.04,0.045,0.05], "tickSize": -5, "labels": false, "domain": false, "title": null}},
     "text": {"field": "label"}
    }},
   {"data": {"name": "note"}, "mark": {"type": "rule", "color": "black", "strokeWidth": 6},
    "encoding": {"x": {"datum": 2.467, "type": "quantitative", "axis": null}, "x2": {"datum": 2.7}, "y": {"datum": 0.0296, "type": "quantitative", "axis": null}}},
   {"data": {"name": "note"}, "mark": {"type": "point", "shape": "M-1,-0.68L1,0L-1,0.68Z", "size": 625, "filled": true, "opacity": 1, "strokeWidth": 0, "color": "black"},
    "encoding": {"x": {"datum": 2.745, "type": "quantitative", "axis": null}, "y": {"datum": 0.0296, "type": "quantitative", "axis": null}}},
   {"data": {"name": "note"}, "mark": {"type": "rule", "color": "#e53540", "strokeWidth": 6},
    "encoding": {"x": {"datum": 2.58, "type": "quantitative", "axis": null}, "x2": {"datum": 2.807}, "y": {"datum": 0.0195, "type": "quantitative", "axis": null}}},
   {"data": {"name": "note"}, "mark": {"type": "point", "shape": "M1,-0.68L-1,0L1,0.68Z", "size": 625, "filled": true, "opacity": 1, "strokeWidth": 0, "color": "#e53540"},
    "encoding": {"x": {"datum": 2.542, "type": "quantitative", "axis": null}, "y": {"datum": 0.0195, "type": "quantitative", "axis": null}}},
   {"data": {"name": "note"}, "mark": {"type": "text", "font": "Liberation Sans", "fontWeight": "bold", "fontSize": 26, "align": "center", "baseline": "middle", "color": "black"},
    "encoding": {"x": {"datum": 2.938, "type": "quantitative", "axis": null}, "y": {"datum": 0.0288, "type": "quantitative", "axis": null}, "text": {"value": "+"}}},
   {"data": {"name": "note"}, "mark": {"type": "text", "font": "Liberation Sans", "fontWeight": "bold", "fontSize": 28, "align": "center", "baseline": "middle", "color": "black"},
    "encoding": {"x": {"datum": 2.944, "type": "quantitative", "axis": null}, "y": {"datum": 0.0192, "type": "quantitative", "axis": null}, "text": {"value": "-"}}},
   {"data": {"name": "note"}, "mark": {"type": "text", "font": "Liberation Serif", "fontWeight": "bold", "fontSize": 26, "align": "left", "baseline": "alphabetic", "color": "black"},
    "encoding": {"x": {"datum": -0.428, "type": "quantitative", "axis": null}, "y": {"datum": 0.0548, "type": "quantitative", "axis": null}, "text": {"value": "b) e⁺ spin in beam:"}}},
   {"data": {"name": "note"}, "mark": {"type": "rule", "color": "black", "strokeWidth": 6},
    "encoding": {"x": {"datum": 1.10, "type": "quantitative", "axis": null}, "x2": {"datum": 1.369}, "y": {"datum": 0.0563, "type": "quantitative", "axis": null}}},
   {"data": {"name": "note"}, "mark": {"type": "point", "shape": "M1,-0.75L-1,0L1,0.75Z", "size": 400, "filled": true, "opacity": 1, "strokeWidth": 0, "color": "black"},
    "encoding": {"x": {"datum": 1.075, "type": "quantitative", "axis": null}, "y": {"datum": 0.0563, "type": "quantitative", "axis": null}}}
  ]
 },
 {
  "width": 543, "height": 137,
  "data": {"name": "c"},
  "resolve": {"axis": {"x": "independent", "y": "independent"}},
  "layer": [
   {"mark": {"type": "area", "interpolate": "step", "fill": {"gradient": "linear", "x1": 0, "y1": 0, "x2": 1, "y2": 0.23, "stops": [{"offset":0,"color":"#fff"},{"offset":0.0025,"color":"#e32c3a"},{"offset":0.005,"color":"#fff"},{"offset":0.01,"color":"#fff"},{"offset":0.0125,"color":"#e32c3a"},{"offset":0.015,"color":"#fff"},{"offset":0.02,"color":"#fff"},{"offset":0.0225,"color":"#e32c3a"},{"offset":0.025,"color":"#fff"},{"offset":0.03,"color":"#fff"},{"offset":0.0325,"color":"#e32c3a"},{"offset":0.035,"color":"#fff"},{"offset":0.04,"color":"#fff"},{"offset":0.0425,"color":"#e32c3a"},{"offset":0.045,"color":"#fff"},{"offset":0.05,"color":"#fff"},{"offset":0.0525,"color":"#e32c3a"},{"offset":0.055,"color":"#fff"},{"offset":0.06,"color":"#fff"},{"offset":0.0625,"color":"#e32c3a"},{"offset":0.065,"color":"#fff"},{"offset":0.07,"color":"#fff"},{"offset":0.0725,"color":"#e32c3a"},{"offset":0.075,"color":"#fff"},{"offset":0.08,"color":"#fff"},{"offset":0.0825,"color":"#e32c3a"},{"offset":0.085,"color":"#fff"},{"offset":0.09,"color":"#fff"},{"offset":0.0925,"color":"#e32c3a"},{"offset":0.095,"color":"#fff"},{"offset":0.1,"color":"#fff"},{"offset":0.1025,"color":"#e32c3a"},{"offset":0.105,"color":"#fff"},{"offset":0.11,"color":"#fff"},{"offset":0.1125,"color":"#e32c3a"},{"offset":0.115,"color":"#fff"},{"offset":0.12,"color":"#fff"},{"offset":0.1225,"color":"#e32c3a"},{"offset":0.125,"color":"#fff"},{"offset":0.13,"color":"#fff"},{"offset":0.1325,"color":"#e32c3a"},{"offset":0.135,"color":"#fff"},{"offset":0.14,"color":"#fff"},{"offset":0.1425,"color":"#e32c3a"},{"offset":0.145,"color":"#fff"},{"offset":0.15,"color":"#fff"},{"offset":0.1525,"color":"#e32c3a"},{"offset":0.155,"color":"#fff"},{"offset":0.16,"color":"#fff"},{"offset":0.1625,"color":"#e32c3a"},{"offset":0.165,"color":"#fff"},{"offset":0.17,"color":"#fff"},{"offset":0.1725,"color":"#e32c3a"},{"offset":0.175,"color":"#fff"},{"offset":0.18,"color":"#fff"},{"offset":0.1825,"color":"#e32c3a"},{"offset":0.185,"color":"#fff"},{"offset":0.19,"color":"#fff"},{"offset":0.1925,"color":"#e32c3a"},{"offset":0.195,"color":"#fff"},{"offset":0.2,"color":"#fff"},{"offset":0.2025,"color":"#e32c3a"},{"offset":0.205,"color":"#fff"},{"offset":0.21,"color":"#fff"},{"offset":0.2125,"color":"#e32c3a"},{"offset":0.215,"color":"#fff"},{"offset":0.22,"color":"#fff"},{"offset":0.2225,"color":"#e32c3a"},{"offset":0.225,"color":"#fff"},{"offset":0.23,"color":"#fff"},{"offset":0.2325,"color":"#e32c3a"},{"offset":0.235,"color":"#fff"},{"offset":0.24,"color":"#fff"},{"offset":0.2425,"color":"#e32c3a"},{"offset":0.245,"color":"#fff"},{"offset":0.25,"color":"#fff"},{"offset":0.2525,"color":"#e32c3a"},{"offset":0.255,"color":"#fff"},{"offset":0.26,"color":"#fff"},{"offset":0.2625,"color":"#e32c3a"},{"offset":0.265,"color":"#fff"},{"offset":0.27,"color":"#fff"},{"offset":0.2725,"color":"#e32c3a"},{"offset":0.275,"color":"#fff"},{"offset":0.28,"color":"#fff"},{"offset":0.2825,"color":"#e32c3a"},{"offset":0.285,"color":"#fff"},{"offset":0.29,"color":"#fff"},{"offset":0.2925,"color":"#e32c3a"},{"offset":0.295,"color":"#fff"},{"offset":0.3,"color":"#fff"},{"offset":0.3025,"color":"#e32c3a"},{"offset":0.305,"color":"#fff"},{"offset":0.31,"color":"#fff"},{"offset":0.3125,"color":"#e32c3a"},{"offset":0.315,"color":"#fff"},{"offset":0.32,"color":"#fff"},{"offset":0.3225,"color":"#e32c3a"},{"offset":0.325,"color":"#fff"},{"offset":0.33,"color":"#fff"},{"offset":0.3325,"color":"#e32c3a"},{"offset":0.335,"color":"#fff"},{"offset":0.34,"color":"#fff"},{"offset":0.3425,"color":"#e32c3a"},{"offset":0.345,"color":"#fff"},{"offset":0.35,"color":"#fff"},{"offset":0.3525,"color":"#e32c3a"},{"offset":0.355,"color":"#fff"},{"offset":0.36,"color":"#fff"},{"offset":0.3625,"color":"#e32c3a"},{"offset":0.365,"color":"#fff"},{"offset":0.37,"color":"#fff"},{"offset":0.3725,"color":"#e32c3a"},{"offset":0.375,"color":"#fff"},{"offset":0.38,"color":"#fff"},{"offset":0.3825,"color":"#e32c3a"},{"offset":0.385,"color":"#fff"},{"offset":0.39,"color":"#fff"},{"offset":0.3925,"color":"#e32c3a"},{"offset":0.395,"color":"#fff"},{"offset":0.4,"color":"#fff"},{"offset":0.4025,"color":"#e32c3a"},{"offset":0.405,"color":"#fff"},{"offset":0.41,"color":"#fff"},{"offset":0.4125,"color":"#e32c3a"},{"offset":0.415,"color":"#fff"},{"offset":0.42,"color":"#fff"},{"offset":0.4225,"color":"#e32c3a"},{"offset":0.425,"color":"#fff"},{"offset":0.43,"color":"#fff"},{"offset":0.4325,"color":"#e32c3a"},{"offset":0.435,"color":"#fff"},{"offset":0.44,"color":"#fff"},{"offset":0.4425,"color":"#e32c3a"},{"offset":0.445,"color":"#fff"},{"offset":0.45,"color":"#fff"},{"offset":0.4525,"color":"#e32c3a"},{"offset":0.455,"color":"#fff"},{"offset":0.46,"color":"#fff"},{"offset":0.4625,"color":"#e32c3a"},{"offset":0.465,"color":"#fff"},{"offset":0.47,"color":"#fff"},{"offset":0.4725,"color":"#e32c3a"},{"offset":0.475,"color":"#fff"},{"offset":0.48,"color":"#fff"},{"offset":0.4825,"color":"#e32c3a"},{"offset":0.485,"color":"#fff"},{"offset":0.49,"color":"#fff"},{"offset":0.4925,"color":"#e32c3a"},{"offset":0.495,"color":"#fff"},{"offset":0.5,"color":"#fff"},{"offset":0.5025,"color":"#e32c3a"},{"offset":0.505,"color":"#fff"},{"offset":0.51,"color":"#fff"},{"offset":0.5125,"color":"#e32c3a"},{"offset":0.515,"color":"#fff"},{"offset":0.52,"color":"#fff"},{"offset":0.5225,"color":"#e32c3a"},{"offset":0.525,"color":"#fff"},{"offset":0.53,"color":"#fff"},{"offset":0.5325,"color":"#e32c3a"},{"offset":0.535,"color":"#fff"},{"offset":0.54,"color":"#fff"},{"offset":0.5425,"color":"#e32c3a"},{"offset":0.545,"color":"#fff"},{"offset":0.55,"color":"#fff"},{"offset":0.5525,"color":"#e32c3a"},{"offset":0.555,"color":"#fff"},{"offset":0.56,"color":"#fff"},{"offset":0.5625,"color":"#e32c3a"},{"offset":0.565,"color":"#fff"},{"offset":0.57,"color":"#fff"},{"offset":0.5725,"color":"#e32c3a"},{"offset":0.575,"color":"#fff"},{"offset":0.58,"color":"#fff"},{"offset":0.5825,"color":"#e32c3a"},{"offset":0.585,"color":"#fff"},{"offset":0.59,"color":"#fff"},{"offset":0.5925,"color":"#e32c3a"},{"offset":0.595,"color":"#fff"},{"offset":0.6,"color":"#fff"},{"offset":0.6025,"color":"#e32c3a"},{"offset":0.605,"color":"#fff"},{"offset":0.61,"color":"#fff"},{"offset":0.6125,"color":"#e32c3a"},{"offset":0.615,"color":"#fff"},{"offset":0.62,"color":"#fff"},{"offset":0.6225,"color":"#e32c3a"},{"offset":0.625,"color":"#fff"},{"offset":0.63,"color":"#fff"},{"offset":0.6325,"color":"#e32c3a"},{"offset":0.635,"color":"#fff"},{"offset":0.64,"color":"#fff"},{"offset":0.6425,"color":"#e32c3a"},{"offset":0.645,"color":"#fff"},{"offset":0.65,"color":"#fff"},{"offset":0.6525,"color":"#e32c3a"},{"offset":0.655,"color":"#fff"},{"offset":0.66,"color":"#fff"},{"offset":0.6625,"color":"#e32c3a"},{"offset":0.665,"color":"#fff"},{"offset":0.67,"color":"#fff"},{"offset":0.6725,"color":"#e32c3a"},{"offset":0.675,"color":"#fff"},{"offset":0.68,"color":"#fff"},{"offset":0.6825,"color":"#e32c3a"},{"offset":0.685,"color":"#fff"},{"offset":0.69,"color":"#fff"},{"offset":0.6925,"color":"#e32c3a"},{"offset":0.695,"color":"#fff"},{"offset":0.7,"color":"#fff"},{"offset":0.7025,"color":"#e32c3a"},{"offset":0.705,"color":"#fff"},{"offset":0.71,"color":"#fff"},{"offset":0.7125,"color":"#e32c3a"},{"offset":0.715,"color":"#fff"},{"offset":0.72,"color":"#fff"},{"offset":0.7225,"color":"#e32c3a"},{"offset":0.725,"color":"#fff"},{"offset":0.73,"color":"#fff"},{"offset":0.7325,"color":"#e32c3a"},{"offset":0.735,"color":"#fff"},{"offset":0.74,"color":"#fff"},{"offset":0.7425,"color":"#e32c3a"},{"offset":0.745,"color":"#fff"},{"offset":0.75,"color":"#fff"},{"offset":0.7525,"color":"#e32c3a"},{"offset":0.755,"color":"#fff"},{"offset":0.76,"color":"#fff"},{"offset":0.7625,"color":"#e32c3a"},{"offset":0.765,"color":"#fff"},{"offset":0.77,"color":"#fff"},{"offset":0.7725,"color":"#e32c3a"},{"offset":0.775,"color":"#fff"},{"offset":0.78,"color":"#fff"},{"offset":0.7825,"color":"#e32c3a"},{"offset":0.785,"color":"#fff"},{"offset":0.79,"color":"#fff"},{"offset":0.7925,"color":"#e32c3a"},{"offset":0.795,"color":"#fff"},{"offset":0.8,"color":"#fff"},{"offset":0.8025,"color":"#e32c3a"},{"offset":0.805,"color":"#fff"},{"offset":0.81,"color":"#fff"},{"offset":0.8125,"color":"#e32c3a"},{"offset":0.815,"color":"#fff"},{"offset":0.82,"color":"#fff"},{"offset":0.8225,"color":"#e32c3a"},{"offset":0.825,"color":"#fff"},{"offset":0.83,"color":"#fff"},{"offset":0.8325,"color":"#e32c3a"},{"offset":0.835,"color":"#fff"},{"offset":0.84,"color":"#fff"},{"offset":0.8425,"color":"#e32c3a"},{"offset":0.845,"color":"#fff"},{"offset":0.85,"color":"#fff"},{"offset":0.8525,"color":"#e32c3a"},{"offset":0.855,"color":"#fff"},{"offset":0.86,"color":"#fff"},{"offset":0.8625,"color":"#e32c3a"},{"offset":0.865,"color":"#fff"},{"offset":0.87,"color":"#fff"},{"offset":0.8725,"color":"#e32c3a"},{"offset":0.875,"color":"#fff"},{"offset":0.88,"color":"#fff"},{"offset":0.8825,"color":"#e32c3a"},{"offset":0.885,"color":"#fff"},{"offset":0.89,"color":"#fff"},{"offset":0.8925,"color":"#e32c3a"},{"offset":0.895,"color":"#fff"},{"offset":0.9,"color":"#fff"},{"offset":0.9025,"color":"#e32c3a"},{"offset":0.905,"color":"#fff"},{"offset":0.91,"color":"#fff"},{"offset":0.9125,"color":"#e32c3a"},{"offset":0.915,"color":"#fff"},{"offset":0.92,"color":"#fff"},{"offset":0.9225,"color":"#e32c3a"},{"offset":0.925,"color":"#fff"},{"offset":0.93,"color":"#fff"},{"offset":0.9325,"color":"#e32c3a"},{"offset":0.935,"color":"#fff"},{"offset":0.94,"color":"#fff"},{"offset":0.9425,"color":"#e32c3a"},{"offset":0.945,"color":"#fff"},{"offset":0.95,"color":"#fff"},{"offset":0.9525,"color":"#e32c3a"},{"offset":0.955,"color":"#fff"},{"offset":0.96,"color":"#fff"},{"offset":0.9625,"color":"#e32c3a"},{"offset":0.965,"color":"#fff"},{"offset":0.97,"color":"#fff"},{"offset":0.9725,"color":"#e32c3a"},{"offset":0.975,"color":"#fff"},{"offset":0.98,"color":"#fff"},{"offset":0.9825,"color":"#e32c3a"},{"offset":0.985,"color":"#fff"},{"offset":0.99,"color":"#fff"},{"offset":0.9925,"color":"#e32c3a"},{"offset":0.995,"color":"#fff"},{"offset":1,"color":"#fff"}]}},
    "encoding": {
     "x": {"field": "t", "type": "quantitative", "scale": {"domain": [0, 3.55], "nice": false, "zero": false}, "axis": {"orient": "bottom", "values": [0,0.5,1,1.5,2,2.5,3,3.5], "format": "~g", "tickSize": -10, "labelPadding": 16, "labelFlush": false, "labelOverlap": false, "title": "Transmission (a.u.)", "titleFontSize": 24.5, "titlePadding": -2, "domain": true}},
     "y": {"field": "neg", "type": "quantitative", "scale": {"domain": [0, 0.0507], "nice": false}, "axis": {"orient": "left", "values": [0,0.02,0.04], "format": "~g", "tickSize": -10, "labelPadding": 23.5, "labelFlush": false, "labelOverlap": false, "title": "Entry (normalized)", "titleFontSize": 17.5, "titlePadding": 6, "domain": true}}
    }},
   {"mark": {"type": "line", "interpolate": "step", "color": "black", "strokeWidth": 1.8},
    "encoding": {
     "x": {"field": "t", "type": "quantitative", "axis": {"orient": "bottom", "values": [0,0.1,0.2,0.3,0.4,0.5,0.6,0.7,0.8,0.9,1,1.1,1.2,1.3,1.4,1.5,1.6,1.7,1.8,1.9,2,2.1,2.2,2.3,2.4,2.5,2.6,2.7,2.8,2.9,3,3.1,3.2,3.3,3.4,3.5], "tickSize": -5, "labels": false, "domain": false, "title": null}},
     "y": {"field": "pos", "type": "quantitative", "axis": {"orient": "left", "values": [0,0.005,0.01,0.015,0.02,0.025,0.03,0.035,0.04,0.045,0.05], "tickSize": -5, "labels": false, "domain": false, "title": null}}
    }},
   {"mark": {"type": "line", "interpolate": "step", "color": "#e53540", "strokeWidth": 1.8, "strokeDash": [3, 2]},
    "encoding": {
     "x": {"field": "t", "type": "quantitative", "axis": {"orient": "top", "values": [0,0.5,1,1.5,2,2.5,3,3.5], "tickSize": -10, "labels": false, "domain": true, "title": null}},
     "y": {"field": "neg", "type": "quantitative", "axis": {"orient": "right", "values": [0,0.02,0.04], "tickSize": -10, "labels": false, "domain": true, "title": null}}
    }},
   {"data": {"name": "note"},
    "mark": {"type": "text", "font": "Liberation Serif", "fontWeight": "bold", "fontSize": 25, "align": "center", "baseline": "alphabetic", "color": "black"},
    "encoding": {
     "x": {"datum": 2.742, "type": "quantitative", "axis": {"orient": "top", "values": [0,0.1,0.2,0.3,0.4,0.5,0.6,0.7,0.8,0.9,1,1.1,1.2,1.3,1.4,1.5,1.6,1.7,1.8,1.9,2,2.1,2.2,2.3,2.4,2.5,2.6,2.7,2.8,2.9,3,3.1,3.2,3.3,3.4,3.5], "tickSize": -5, "labels": false, "domain": false, "title": null}},
     "y": {"datum": 0.0369, "type": "quantitative", "axis": {"orient": "right", "values": [0,0.005,0.01,0.015,0.02,0.025,0.03,0.035,0.04,0.045,0.05], "tickSize": -5, "labels": false, "domain": false, "title": null}},
     "text": {"field": "label"}
    }},
   {"data": {"name": "note"}, "mark": {"type": "rule", "color": "black", "strokeWidth": 6},
    "encoding": {"x": {"datum": 2.467, "type": "quantitative", "axis": null}, "x2": {"datum": 2.7}, "y": {"datum": 0.0296, "type": "quantitative", "axis": null}}},
   {"data": {"name": "note"}, "mark": {"type": "point", "shape": "M-1,-0.68L1,0L-1,0.68Z", "size": 625, "filled": true, "opacity": 1, "strokeWidth": 0, "color": "black"},
    "encoding": {"x": {"datum": 2.745, "type": "quantitative", "axis": null}, "y": {"datum": 0.0296, "type": "quantitative", "axis": null}}},
   {"data": {"name": "note"}, "mark": {"type": "rule", "color": "#e53540", "strokeWidth": 6},
    "encoding": {"x": {"datum": 2.58, "type": "quantitative", "axis": null}, "x2": {"datum": 2.807}, "y": {"datum": 0.0195, "type": "quantitative", "axis": null}}},
   {"data": {"name": "note"}, "mark": {"type": "point", "shape": "M1,-0.68L-1,0L1,0.68Z", "size": 625, "filled": true, "opacity": 1, "strokeWidth": 0, "color": "#e53540"},
    "encoding": {"x": {"datum": 2.542, "type": "quantitative", "axis": null}, "y": {"datum": 0.0195, "type": "quantitative", "axis": null}}},
   {"data": {"name": "note"}, "mark": {"type": "text", "font": "Liberation Sans", "fontWeight": "bold", "fontSize": 26, "align": "center", "baseline": "middle", "color": "black"},
    "encoding": {"x": {"datum": 2.938, "type": "quantitative", "axis": null}, "y": {"datum": 0.0288, "type": "quantitative", "axis": null}, "text": {"value": "+"}}},
   {"data": {"name": "note"}, "mark": {"type": "text", "font": "Liberation Sans", "fontWeight": "bold", "fontSize": 28, "align": "center", "baseline": "middle", "color": "black"},
    "encoding": {"x": {"datum": 2.944, "type": "quantitative", "axis": null}, "y": {"datum": 0.0192, "type": "quantitative", "axis": null}, "text": {"value": "-"}}},
   {"data": {"name": "note"}, "mark": {"type": "text", "font": "Liberation Serif", "fontWeight": "bold", "fontSize": 26, "align": "left", "baseline": "alphabetic", "color": "black"},
    "encoding": {"x": {"datum": -0.428, "type": "quantitative", "axis": null}, "y": {"datum": 0.0548, "type": "quantitative", "axis": null}, "text": {"value": "c) e⁺ spin in beam:"}}},
   {"data": {"name": "note"}, "mark": {"type": "text", "font": "Liberation Sans", "fontWeight": "bold", "fontSize": 24, "align": "left", "baseline": "alphabetic", "color": "black"},
    "encoding": {"x": {"datum": 1.0, "type": "quantitative", "axis": null}, "y": {"datum": 0.0548, "type": "quantitative", "axis": null}, "text": {"value": "non"}}}
  ]
 }
]
}
